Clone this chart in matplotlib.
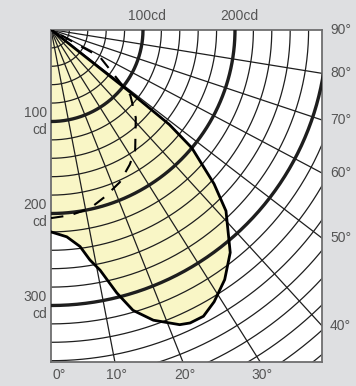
import numpy as np
import matplotlib.pyplot as plt

plt.rcParams['font.family'] = ['Liberation Sans', 'DejaVu Sans']

# luminous intensity, main plane (filled) and second plane (dashed)
curve_deg = [0, 4, 7, 8.8, 10.6, 12.9, 15, 17.9, 21.8, 23.5, 26, 28.8, 32.5, 36.4,
             41.5, 44.1, 47.5, 48.8, 49.2, 49.3]
curve_cd = [220, 226, 238, 254, 267, 295, 318, 335, 350, 353, 353, 345, 331, 311,
            274, 244, 200, 165, 110, 0]
dash_deg = [0, 5.4, 11.3, 16.5, 22.5, 28.1, 32.6, 41.4, 47.9, 58.5, 64]
dash_cd = [205, 203, 199, 191, 182, 170, 160, 133, 112, 61, 0]

ring_cd = np.arange(20, 500, 20)
bold_rings = [100, 200, 300]
spoke_deg = np.arange(10, 90, 10)
right_ticks = [90, 80, 70, 60, 50, 40]
bottom_ticks = [0, 10, 20, 30]

K = 1.09          # horizontal stretch of the angle grid
PX = 0.92         # pixels per cd
W, H = 271 / PX, 332.5 / PX
INK = '#1e1e1e'
LABEL = '#555555'


def to_xy(deg, cd):
    t = np.radians(np.asarray(deg, float))
    ux, uy = K * np.sin(t), np.cos(t)
    n = np.hypot(ux, uy)
    cd = np.asarray(cd, float)
    return cd * ux / n, -cd * uy / n


fig = plt.figure(figsize=(3.56, 3.86), dpi=100, facecolor='#dedfe1')
ax = fig.add_axes([51 / 356, 24 / 386, 271 / 356, 332.5 / 386])
ax.set_xlim(0, W)
ax.set_ylim(-H, 0)
ax.set_facecolor('white')
ax.set_xticks([])
ax.set_yticks([])
for s in ax.spines.values():
    s.set_color('#6e6e6e')
    s.set_linewidth(1.3)

# filled distribution
cx, cy = to_xy(curve_deg, curve_cd)
ax.fill(np.r_[0, cx], np.r_[0, cy], color='#f9f6c6', zorder=1)

# intensity rings
phi = np.radians(np.linspace(0, 90, 200))
for r in ring_cd:
    bold = r in bold_rings
    ax.plot(r * np.sin(phi), -r * np.cos(phi), color=INK,
            lw=2.4 if bold else 0.9, zorder=3 if bold else 2)

# angle spokes
for d in spoke_deg:
    sx, sy = to_xy([d, d], [0, 700])
    ax.plot(sx, sy, color=INK, lw=0.9, zorder=2)

ax.plot(cx, cy, color='black', lw=2.0, zorder=4)
dx, dy = to_xy(dash_deg, dash_cd)
ax.plot(dx, dy, color='black', lw=1.5, ls=(0, (6, 5)), zorder=4)

# labels
for d in right_ticks:
    ux, uy = to_xy(d, 1.0)
    y = 0 if d == 90 else W * uy / ux
    ax.text(W + 8 / PX, y, f'{d}°', ha='left', va='center', fontsize=10,
            color=LABEL, clip_on=False)
for d in bottom_ticks:
    ux, uy = to_xy(d, 1.0)
    x = -H * ux / uy
    ax.text(x + 2 / PX, -H - 6 / PX, f'{d}°',
            ha='left' if d == 0 else 'center', va='top', fontsize=10,
            color=LABEL, clip_on=False)
for r in [100, 200]:
    ax.text(r + 4 / PX, 6 / PX, f'{r}cd', ha='center', va='bottom', fontsize=10,
            color=LABEL, clip_on=False)
for r in bold_rings:
    ax.text(-4 / PX, -r, f'{r}\ncd', ha='right', va='center', fontsize=10,
            color=LABEL, clip_on=False, linespacing=1.2)

fig.savefig('out.png', dpi=100, facecolor=fig.get_facecolor())
